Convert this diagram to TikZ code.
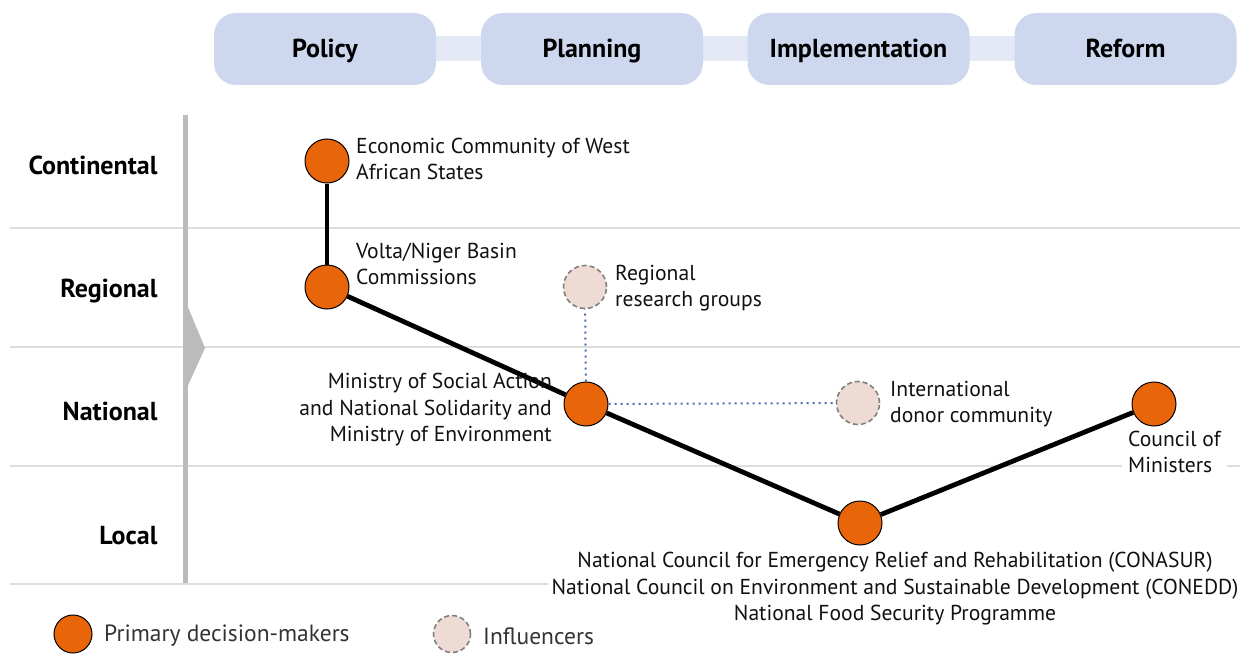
\documentclass[tikz,border=0pt]{standalone}
\usepackage{fontspec}
\setmainfont{PT Sans}
\usetikzlibrary{shapes.geometric,backgrounds}
\definecolor{orangeC}{HTML}{E8650A}
\definecolor{pinkC}{HTML}{EEDCD4}
\definecolor{boxC}{HTML}{CDD8EE}
\definecolor{bandC}{HTML}{E4E9F5}
\definecolor{blueC}{HTML}{4A6CB3}
\definecolor{rowC}{HTML}{DDDDDD}
\definecolor{barC}{HTML}{BBBBBB}
\definecolor{txtC}{HTML}{111111}
\begin{document}
\begin{tikzpicture}[x=1pt,y=-1pt,
  prim/.style={circle, draw=black, line width=1pt, fill=orangeC, minimum size=44pt, inner sep=0pt},
  infl/.style={circle, draw=black!50, dashed, dash pattern=on 5pt off 3pt, line width=1.6pt, fill=pinkC, minimum size=43pt, inner sep=0pt},
  link/.style={line width=4.8pt},
  dotl/.style={draw=blueC, line width=2pt, dash pattern=on 2pt off 4pt},
  phase/.style={rounded corners=22pt, fill=boxC, minimum width=222pt, minimum height=72pt, inner sep=0pt, text height=18pt, text depth=0pt, font=\bfseries\fontsize{26}{28}\selectfont},
  lvl/.style={anchor=base east, font=\bfseries\fontsize{26}{28}\selectfont},
  lab/.style={font=\fontsize{21.6}{26.5}\selectfont, inner sep=0pt, text=txtC},
  leg/.style={font=\fontsize{23.5}{26}\selectfont, inner sep=0pt, text=black!80},
  rowline/.style={draw=rowC, line width=1.2pt}
]
\useasboundingbox (0,0) rectangle (1250,666);

% phases
\node[phase] (policy) at (325,49) {Policy};
\node[phase] (planning) at (592,49) {Planning};
\node[phase] (impl) at (858.5,49) {Implementation};
\node[phase] (reform) at (1125.5,49) {Reform};
\begin{pgfonlayer}{background}
\fill[bandC] (policy.center) ++(0,-12.5) rectangle (reform.center |- 0,61);
\end{pgfonlayer}

% row lines
\draw[rowline] (10,228) -- (1240,228);
\draw[rowline] (10,347) -- (1240,347);
\draw[rowline] (10,466) -- (1240,466);
\draw[rowline] (10,584) -- (1240,584);

% vertical bar and arrow
\fill[barC] (182.5,115) rectangle (187.5,583);
\fill[barC] (185,300) -- (205,348) -- (185,392) -- cycle;

% level labels
\node[lvl] (cont) at (161,174) {Continental};
\node[lvl] (reg) at (161,297) {Regional};
\node[lvl] (nat) at (161,420) {National};
\node[lvl] (loc) at (161,544) {Local};

% nodes
\node[prim] (ecowas) at (327,161) {};
\node[prim] (volta) at (327,287) {};
\node[prim] (ministry) at (586,404) {};
\node[prim] (natcouncil) at (860,523) {};
\node[prim] (council) at (1154,404) {};
\node[infl] (research) at (585,287) {};
\node[infl] (donor) at (858,403) {};

% connectors
\draw[dotl] (ministry) -- (research);
\draw[dotl] (ministry) -- (donor);
\draw[link] (ecowas) -- (volta);
\draw[link] (volta) -- (ministry);
\draw[link] (ministry) -- (natcouncil);
\draw[link] (natcouncil) -- (council);

% labels
\node[lab, anchor=west, align=left] (tEcowas) at (356,159) {Economic Community of West\\African States};
\node[lab, anchor=west, align=left] (tVolta) at (356,264) {Volta/Niger Basin\\Commissions};
\node[lab, anchor=west, align=left] (tResearch) at (615,288) {Regional\\research groups};
\node[lab, anchor=east, align=right] (tMinistry) at (552,410) {Ministry of Social Action\\and National Solidarity and\\Ministry of Environment};
\node[lab, anchor=west, align=left] (tDonor) at (890,404) {International\\donor community};
\node[lab, anchor=west, align=left, fill=white, inner xsep=6pt] (tCouncil) at (1122,452) {Council of\\Ministers};
\node[lab, align=center, fill=white, inner xsep=4pt] (tNat) at (895,589) {National Council for Emergency Relief and Rehabilitation (CONASUR)\\National Council on Environment and Sustainable Development (CONEDD)\\National Food Security Programme};

% legend
\node[circle, draw=black, line width=1pt, fill=orangeC, minimum size=38pt, inner sep=0pt] (legP) at (73,634) {};
\node[leg, anchor=west] (legPt) at (104,636) {Primary decision-makers};
\node[circle, draw=black!50, dashed, dash pattern=on 5pt off 3pt, line width=1.6pt, fill=pinkC, minimum size=37pt, inner sep=0pt] (legI) at (452,634) {};
\node[leg, anchor=west] (legIt) at (483,636) {Influencers};
\end{tikzpicture}
\end{document}
